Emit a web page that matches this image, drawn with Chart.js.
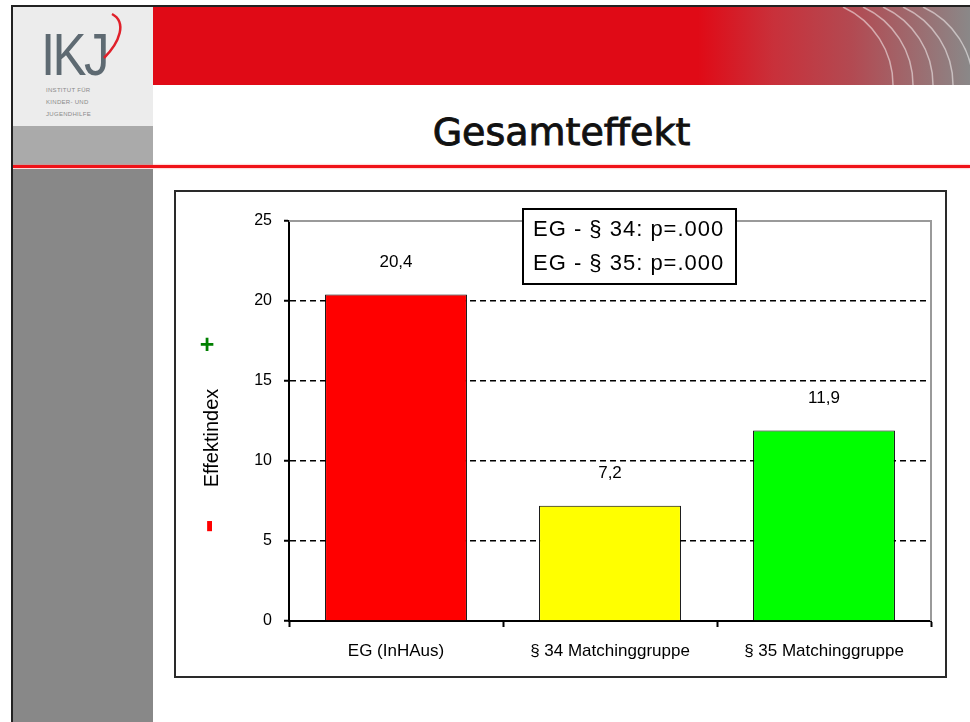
<!DOCTYPE html>
<html>
<head>
<meta charset="utf-8">
<script src="https://cdn.jsdelivr.net/npm/chart.js@4.4.0/dist/chart.umd.min.js"></script>
<style>
  body { margin: 0; background: #fff; width: 970px; height: 722px; overflow: hidden; position: relative; font-family: "Liberation Sans", Arial, sans-serif; }
  .abs { position: absolute; }
  #frameTop { left: 11px; top: 5px; width: 959px; height: 2px; background: #222; }
  #frameLeft { left: 11px; top: 5px; width: 2px; height: 717px; background: #222; }
  #logoBox { left: 13px; top: 7px; width: 140px; height: 119px; background: #ececec; }
  #greyBand { left: 13px; top: 126px; width: 140px; height: 39px; background: #aaaaaa; }
  #greySide { left: 13px; top: 169px; width: 140px; height: 553px; background: #888888; }
  #banner { left: 153px; top: 7px; width: 817px; height: 78px;
    background: linear-gradient(to right, #e00a16 0px, #e00a16 545px, #c9303a 620px, #b24a52 700px, #8a8888 817px); }
  #redLine { left: 13px; top: 165px; width: 957px; height: 3px; background: #f01218; box-shadow: 0 0 2px #f77; }
  #title { left: 153px; top: 110px; width: 817px; text-align: center; font-family: "DejaVu Sans", Verdana, sans-serif; font-weight: normal; font-size: 38px; line-height: normal; color: #111; -webkit-text-stroke: 0.9px #111; }
  #ikj { left: 41px; top: 25px; font-family: "Liberation Sans Narrow", "Liberation Sans", Arial, sans-serif; font-size: 60px; color: #5e6a72; letter-spacing: -3px; transform: scaleX(0.85); transform-origin: left top; line-height: 60px; }
  #ikjText { left: 46px; top: 84px; font-size: 6px; line-height: 12px; color: #8a8a8a; letter-spacing: 0.3px; }
  #chartBox { left: 174px; top: 190px; width: 769px; height: 484px; border: 2px solid #2a2a2a; background: #fff; }
  #chartBox canvas { display: block; }
</style>
</head>
<body>
<div class="abs" id="banner"></div>
<svg class="abs" style="left:0;top:0" width="970" height="100">
  <g fill="none" stroke="rgba(255,255,255,0.5)" stroke-width="1.5">
    <path d="M843,7 A86,86 0 0 1 893,85"/>
    <path d="M863,7 A86,86 0 0 1 913,85"/>
    <path d="M883,7 A86,86 0 0 1 933,85"/>
    <path d="M903,7 A86,86 0 0 1 953,85"/>
    <path d="M923,7 A86,86 0 0 1 973,85"/>
  </g>
</svg>
<div class="abs" id="logoBox"></div>
<div class="abs" id="greyBand"></div>
<div class="abs" id="greySide"></div>
<div class="abs" id="redLine"></div>
<div class="abs" id="frameTop"></div>
<div class="abs" id="frameLeft"></div>
<div class="abs" id="ikj">IKJ</div>
<svg class="abs" style="left:0;top:0" width="150" height="100">
  <path d="M104,58 C120,42 127,22 112,14" fill="none" stroke="#e0202a" stroke-width="2.5"/>
</svg>
<div class="abs" id="ikjText">INSTITUT FÜR<br>KINDER- UND<br>JUGENDHILFE</div>
<div class="abs" id="title">Gesamteffekt</div>

<div class="abs" id="chartBox">
  <canvas id="gesamteffekt-chart" width="769" height="484"></canvas>
</div>

<script>
  var categories = ["EG (InHAus)", "§ 34 Matchinggruppe", "§ 35 Matchinggruppe"];
  var effektindex = [20.4, 7.2, 11.9];
  var barColors = ["#ff0000", "#ffff00", "#00ff00"];
  var yTicks = [0, 5, 10, 15, 20, 25];
  var pValueLines = ["EG - § 34: p=.000", "EG - § 35: p=.000"];

  var fontFamily = '"Liberation Sans", Arial, sans-serif';

  // plot frame (grey top/right line), like the old excel chart
  var plotFrame = {
    id: 'plotFrame',
    beforeDatasetsDraw: function(chart) {
      var a = chart.chartArea, c = chart.ctx;
      c.save();
      c.strokeStyle = '#9a9a9a';
      c.lineWidth = 2;
      c.beginPath();
      c.moveTo(a.left, a.top);
      c.lineTo(a.right, a.top);
      c.lineTo(a.right, a.bottom);
      c.stroke();
      c.restore();
    }
  };

  var extras = {
    id: 'extras',
    afterDatasetsDraw: function(chart) {
      var c = chart.ctx;
      var meta = chart.getDatasetMeta(0);
      c.save();
      c.fillStyle = '#000';
      c.font = '17px ' + fontFamily;
      c.textAlign = 'center';
      c.textBaseline = 'middle';
      meta.data.forEach(function(bar, i) {
        c.fillText(effektindex[i].toFixed(1).replace('.', ','), bar.x, bar.y - 32);
      });
      c.restore();
    },
    afterDraw: function(chart) {
      var c = chart.ctx, a = chart.chartArea;

      // y axis title and +/- signs
      c.save();
      c.translate(36, 246);
      c.rotate(-Math.PI / 2);
      c.font = '20px ' + fontFamily;
      c.fillStyle = '#000';
      c.textAlign = 'center';
      c.textBaseline = 'middle';
      c.fillText('Effektindex', 0, 0);
      c.restore();

      c.save();
      c.font = 'bold 25px ' + fontFamily;
      c.fillStyle = '#008000';
      c.textAlign = 'center';
      c.textBaseline = 'middle';
      c.fillText('+', 31, 154);
      c.translate(33, 334);
      c.rotate(-Math.PI / 2);
      c.fillStyle = '#ff0000';
      c.font = 'bold 40px ' + fontFamily;
      c.fillText('-', 0, 0);
      c.restore();

      // p-value box
      var bx = a.left + 234, by = a.top - 12, bw = 213, bh = 75;
      c.save();
      c.fillStyle = '#fff';
      c.fillRect(bx, by, bw, bh);
      c.strokeStyle = '#000';
      c.lineWidth = 2;
      c.strokeRect(bx, by, bw, bh);
      c.fillStyle = '#000';
      c.font = '22px ' + fontFamily;
      c.letterSpacing = '1px';
      c.textAlign = 'left';
      c.textBaseline = 'middle';
      c.fillText(pValueLines[0], bx + 10, by + 21);
      c.fillText(pValueLines[1], bx + 10, by + 55);
      c.restore();
    }
  };

  var ctx = document.getElementById('gesamteffekt-chart');
  var gesamtChart = new Chart(ctx, {
    type: 'bar',
    data: {
      labels: categories,
      datasets: [{
        data: effektindex,
        backgroundColor: barColors,
        borderColor: '#000',
        borderWidth: 1,
        barPercentage: 0.663,
        categoryPercentage: 1
      }]
    },
    options: {
      responsive: false,
      animation: false,
      devicePixelRatio: 1,
      layout: { padding: { top: 29, right: 14, left: 0, bottom: 0 } },
      plugins: {
        legend: { display: false },
        tooltip: { enabled: false }
      },
      scales: {
        x: {
          grid: { offset: true, color: 'transparent', tickColor: '#000', tickLength: 6, tickWidth: 2 },
          border: { color: '#000', width: 2 },
          ticks: { color: '#000', font: { size: 17, family: fontFamily }, padding: 14, maxRotation: 0, autoSkip: false },
          afterFit: function(scale) { scale.height = 55; }
        },
        y: {
          min: 0,
          max: 25,
          afterBuildTicks: function(scale) {
            scale.ticks = yTicks.map(function(v) { return { value: v }; });
          },
          grid: {
            color: function(c) {
              return (c.tick.value === 0 || c.tick.value === 25) ? 'transparent' : '#000';
            },
            lineWidth: 1.5,
            tickColor: '#000',
            tickLength: 5,
            tickWidth: 2
          },
          border: { color: '#000', width: 2, dash: [6, 4] },
          ticks: { color: '#000', font: { size: 16, family: fontFamily }, padding: 12 },
          afterFit: function(scale) { scale.width = 113; }
        }
      }
    },
    plugins: [plotFrame, extras]
  });
</script>
</body>
</html>
